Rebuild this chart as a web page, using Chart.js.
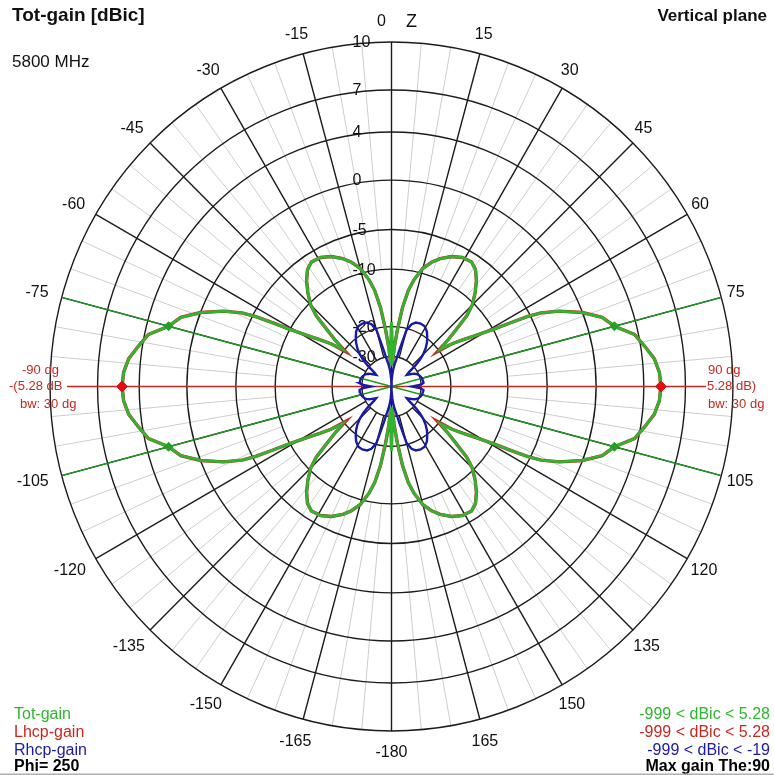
<!DOCTYPE html>
<html><head><meta charset="utf-8">
<script src="https://cdn.jsdelivr.net/npm/chart.js@4.4.1/dist/chart.umd.min.js"></script>
<style>html,body{margin:0;padding:0;background:#fff;overflow:hidden}#wrap{width:774px;height:775px;position:relative}</style>
</head><body><div id="wrap"><canvas id="c" width="774" height="775"></canvas></div>
<script>
// ---- data (angle in degrees from zenith, clockwise; gain in dBic) ----
const angles = [-180,-178,-176,-174,-172,-170,-168,-165,-162,-159,-155,-151,-147,-144,-141,-138,-135,-133,-131,-129,-127,-125,-123,-121,-119,-118,-117,-116,-114,-111,-108,-105,-102,-99,-96,-93,-90,-87,-84,-81,-78,-75,-72,-69,-66,-64,-63,-62,-61,-59,-57,-55,-53,-51,-49,-47,-45,-42,-39,-36,-33,-29,-25,-21,-18,-15,-12,-10,-8,-6,-4,-2,
 0,2,4,6,8,10,12,15,18,21,25,29,33,36,39,42,45,47,49,51,53,55,57,59,61,62,63,64,66,69,72,75,78,81,84,87,90,93,96,99,102,105,108,111,114,116,117,118,119,121,123,125,127,129,131,133,135,138,141,144,147,151,155,159,162,165,168,170,172,174,176,178,180];

const totGain = [-19,-33,-27,-21,-16,-13,-11.2,-9.3,-8.2,-7.4,-6.6,-6.1,-6.0,-6.5,-7.5,-8.8,-10.3,-12,-15,-17.5,-19.5,-17,-15,-12.8,-9.8,-7.6,-5.3,-3.8,-2.0,0.0,1.5,2.28,3.7,4.3,4.9,5.2,5.28,5.2,4.9,4.3,3.7,2.28,1.5,0.0,-2.0,-3.8,-5.3,-7.6,-9.8,-12.8,-15,-17,-19.5,-17.5,-15,-12,-10.3,-8.8,-7.5,-6.5,-6.0,-6.1,-6.6,-7.4,-8.2,-9.3,-11.2,-13,-16,-21,-27,-33,
 -19,-33,-27,-21,-16,-13,-11.2,-9.3,-8.2,-7.4,-6.6,-6.1,-6.0,-6.5,-7.5,-8.8,-10.3,-12,-15,-17.5,-19.5,-17,-15,-12.8,-9.8,-7.6,-5.3,-3.8,-2.0,0.0,1.5,2.28,3.7,4.3,4.9,5.2,5.28,5.2,4.9,4.3,3.7,2.28,1.5,0.0,-2.0,-3.8,-5.3,-7.6,-9.8,-12.8,-15,-17,-19.5,-17.5,-15,-12,-10.3,-8.8,-7.5,-6.5,-6.0,-6.1,-6.6,-7.4,-8.2,-9.3,-11.2,-13,-16,-21,-27,-33,-19];

const lhcpGain = [-19.5,-33,-27,-21,-16,-13,-11.2,-9.3,-8.2,-7.4,-6.6,-6.1,-6.0,-6.5,-7.5,-8.8,-10.3,-12,-15,-17.5,-20.5,-17,-15,-12.8,-9.8,-7.6,-5.3,-3.8,-2.0,0.0,1.5,2.28,3.7,4.3,4.9,5.2,5.28,5.2,4.9,4.3,3.7,2.28,1.5,0.0,-2.0,-3.8,-5.3,-7.6,-9.8,-12.8,-15,-17,-20.5,-17.5,-15,-12,-10.3,-8.8,-7.5,-6.5,-6.0,-6.1,-6.6,-7.4,-8.2,-9.3,-11.2,-13,-16,-21,-27,-33,
 -19.5,-33,-27,-21,-16,-13,-11.2,-9.3,-8.2,-7.4,-6.6,-6.1,-6.0,-6.5,-7.5,-8.8,-10.3,-12,-15,-17.5,-20.5,-17,-15,-12.8,-9.8,-7.6,-5.3,-3.8,-2.0,0.0,1.5,2.28,3.7,4.3,4.9,5.2,5.28,5.2,4.9,4.3,3.7,2.28,1.5,0.0,-2.0,-3.8,-5.3,-7.6,-9.8,-12.8,-15,-17,-20.5,-17.5,-15,-12,-10.3,-8.8,-7.5,-6.5,-6.0,-6.1,-6.6,-7.4,-8.2,-9.3,-11.2,-13,-16,-21,-27,-33,-19.5];

const rhcpGain = [-40,-38,-36,-34,-32.5,-31,-28,-20.5,-18.8,-18.2,-18.0,-18.1,-18.8,-19.7,-21,-22.8,-25,-27,-29.5,-32.5,-33.5,-33,-32.5,-31.8,-31.2,-31,-30.8,-30.6,-30.2,-29.9,-29.6,-29.4,-29.3,-29.2,-29.2,-30.5,-33,-30.5,-29.2,-29.2,-29.3,-29.4,-29.6,-29.9,-30.2,-30.6,-30.8,-31,-31.2,-31.8,-32.5,-33,-33.5,-32.5,-29.5,-27,-25,-22.8,-21,-19.7,-18.8,-18.1,-18.0,-18.2,-18.8,-20.5,-28,-31,-32.5,-34,-36,-38,
 -40,-38,-36,-34,-32.5,-31,-28,-20.5,-18.8,-18.2,-18.0,-18.1,-18.8,-19.7,-21,-22.8,-25,-27,-29.5,-32.5,-33.5,-33,-32.5,-31.8,-31.2,-31,-30.8,-30.6,-30.2,-29.9,-29.6,-29.4,-29.3,-29.2,-29.2,-30.5,-33,-30.5,-29.2,-29.2,-29.3,-29.4,-29.6,-29.9,-30.2,-30.6,-30.8,-31,-31.2,-31.8,-32.5,-33,-33.5,-32.5,-29.5,-27,-25,-22.8,-21,-19.7,-18.8,-18.1,-18.0,-18.2,-18.8,-20.5,-28,-31,-32.5,-34,-36,-38,-40];

const ringDb = [10,7,4,0,-5,-10,-20,-30];
const ringLabels = ['10','7','4','0','-5','-10','-20','-30'];
const angleTicks = [-165,-150,-135,-120,-105,-75,-60,-45,-30,-15,15,30,45,60,75,105,120,135,150,165,180];
const angleTickLabels = ['-165','-150','-135','-120','-105','-75','-60','-45','-30','-15','15','30','45','60','75','105','120','135','150','165','-180'];
const maxAngles = [-90,90];
const maxDb = [5.28,5.28];
const bwAngles = [-105,-75,75,105];
const bwDb = [2.28,2.28,2.28,2.28];
const legendNames = ['Tot-gain','Lhcp-gain','Rhcp-gain'];
const legendRanges = ['-999 < dBic < 5.28','-999 < dBic < 5.28','-999 < dBic < -19'];

// ---- radial (log-like) dB scale: 1 = outer 10 dB ring ----
function dbToR(db){
  if (db >= -20) return 0.7289*Math.exp(0.0438*db) - 0.1297;
  const r20 = 0.7289*Math.exp(-0.876) - 0.1297;
  return Math.max(0, r20*(db+40)/20);
}
function toXY(a, db){ const r=dbToR(db), t=a*Math.PI/180; return {x:r*Math.sin(t), y:r*Math.cos(t)}; }

const GREEN='#2fb52f', RED='#c42a22', BLUE='#1a1aa6';
const FONT='"Liberation Sans", Arial, sans-serif';

const decor = {
  id:'decor',
  beforeDatasetsDraw(chart){
    const ctx=chart.ctx, xs=chart.scales.x, ys=chart.scales.y;
    const cx=xs.getPixelForValue(0), cy=ys.getPixelForValue(0);
    const P=(a,db)=>{const p=toXY(a,db);return [xs.getPixelForValue(p.x), ys.getPixelForValue(p.y)];};
    const seg=(p,q)=>{ctx.beginPath();ctx.moveTo(p[0],p[1]);ctx.lineTo(q[0],q[1]);ctx.stroke();};
    ctx.save();
    ctx.strokeStyle='#cdcdcd'; ctx.lineWidth=1;
    for(let a=-175;a<=180;a+=5){ if(a%15===0) continue; seg(P(a,-10),P(a,10)); }
    ctx.strokeStyle='#1c1c1c'; ctx.lineWidth=1.4;
    ringDb.forEach(db=>{const r=dbToR(db); const rx=xs.getPixelForValue(r)-cx, ry=cy-ys.getPixelForValue(r);
      ctx.beginPath(); ctx.ellipse(cx,cy,rx,ry,0,0,2*Math.PI); ctx.stroke();});
    for(let a=-165;a<=180;a+=15){ if(a===0||a===180||Math.abs(a)===90) continue; seg(P(a,-30),P(a,10)); }
    seg(P(0,10),P(180,10));
    ctx.fillStyle='#111'; ctx.font='16px '+FONT; ctx.textAlign='left'; ctx.textBaseline='middle';
    ringDb.forEach((db,i)=>{ const p=P(0,db); ctx.fillText(ringLabels[i], cx-39, p[1]+1); });
    ctx.strokeStyle=RED; ctx.lineWidth=1.6;
    seg([xs.getPixelForValue(-0.95),cy],[xs.getPixelForValue(0.921),cy]);
    ctx.restore();
  },
  afterDraw(chart){
    const ctx=chart.ctx, xs=chart.scales.x, ys=chart.scales.y;
    const P=(a,db)=>{const p=toXY(a,db);return [xs.getPixelForValue(p.x), ys.getPixelForValue(p.y)];};
    ctx.save();
    ctx.textBaseline='middle';
    ctx.font='16px '+FONT; ctx.fillStyle='#111'; ctx.textAlign='center';
    angleTicks.forEach((a,i)=>{
      const t=a*Math.PI/180, s=Math.sin(t), c=Math.cos(t);
      const [px,py]=P(a,10); const txt=angleTickLabels[i]; const w=ctx.measureText(txt).width;
      const d = s>0.01?6:(s<-0.01?14:0);
      ctx.fillText(txt, px + s*(d+w/2), py - c*(a===180?22:(c<0?23:20)));
    });
    const top=P(0,10);
    ctx.fillText('0', top[0]-10, top[1]-20);
    ctx.font='18px '+FONT; ctx.fillText('Z', top[0]+20, top[1]-20);
    // corner texts
    ctx.textAlign='left';
    ctx.font='bold 19px '+FONT; ctx.fillText('Tot-gain [dBic]', 12, 16);
    ctx.font='17px '+FONT; ctx.fillText('5800 MHz', 12, 62);
    ctx.textAlign='right'; ctx.font='bold 17px '+FONT; ctx.fillText('Vertical plane', 767, 16);
    const cols=[GREEN,RED,BLUE], ly=[715,733,751];
    ctx.font='16px '+FONT;
    legendNames.forEach((n,i)=>{ctx.textAlign='left';ctx.fillStyle=cols[i];ctx.fillText(n,14,ly[i]);
      ctx.textAlign='right';ctx.fillText(legendRanges[i],770,ly[i]);});
    ctx.fillStyle='#000'; ctx.font='bold 16px '+FONT;
    ctx.textAlign='left'; ctx.fillText('Phi= 250',14,767);
    ctx.textAlign='right'; ctx.fillText('Max gain The:90',770,767);
    // max gain annotations
    ctx.fillStyle=RED; ctx.font='13px '+FONT; ctx.textAlign='left';
    ctx.fillText('90 dg',708,370); ctx.fillText('5.28 dB)',707,386); ctx.fillText('bw: 30 dg',708,404);
    ctx.fillText('-90 dg',22,370); ctx.fillText('-(5.28 dB',9,386); ctx.fillText('bw: 30 dg',20,404);
    ctx.strokeStyle='#b0b0b0'; ctx.lineWidth=2; ctx.beginPath(); ctx.moveTo(0,774.5); ctx.lineTo(774,774.5); ctx.stroke();
    ctx.restore();
  }
};

const pts=(arr)=>angles.map((a,i)=>toXY(a,arr[i]));
const bwLines = bwAngles.map(a=>({data:[{x:0,y:0},toXY(a,10)], showLine:true, borderColor:'#1e9a1e', borderWidth:1.4, pointRadius:0, order:5}));

new Chart(document.getElementById('c'),{
  type:'scatter',
  data:{datasets:[
    {label:'Max', data:maxAngles.map((a,i)=>toXY(a,maxDb[i])), showLine:false, pointStyle:'rectRot', pointRadius:5.5, backgroundColor:'#e01010', borderColor:'#e01010', order:0},
    {label:'BW', data:bwAngles.map((a,i)=>toXY(a,bwDb[i])), showLine:false, pointStyle:'rectRot', pointRadius:4.5, backgroundColor:'#22a022', borderColor:'#22a022', order:0},
    {label:'Rhcp-gain', data:pts(rhcpGain), showLine:true, borderColor:BLUE, borderWidth:2.4, pointRadius:0, order:1},
    {label:'Tot-gain', data:pts(totGain), showLine:true, borderColor:GREEN, borderWidth:2.8, pointRadius:0, order:2},
    {label:'Lhcp-gain', data:pts(lhcpGain), showLine:true, borderColor:RED, borderWidth:3.4, pointRadius:0, order:3},
    ...bwLines
  ]},
  options:{
    responsive:false, animation:false, events:[],
    layout:{padding:{left:50,right:41,top:42,bottom:44}},
    scales:{x:{type:'linear',min:-1,max:1,display:false},y:{type:'linear',min:-1,max:1,display:false}},
    plugins:{legend:{display:false},tooltip:{enabled:false},title:{display:false}},
    elements:{line:{tension:0}}
  },
  plugins:[decor]
});
</script></body></html>
